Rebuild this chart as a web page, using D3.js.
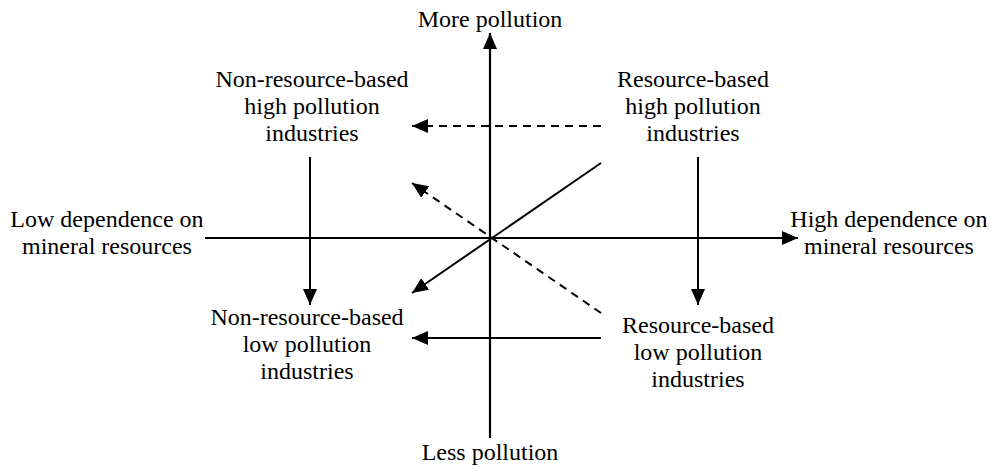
<!DOCTYPE html>
<html>
<head>
<meta charset="utf-8">
<script src="https://cdn.jsdelivr.net/npm/d3@7"></script>
<style>
  body { margin: 0; background: #fff; }
  text { font-family: "Liberation Serif", "Times New Roman", serif; font-size: 24px; fill: #000; }
</style>
</head>
<body>
<script>
// Diagram units: origin at the crossing of the two axes
const axes = [
  { from: [0, -2.0], to: [0, 2.05] },
  { from: [-2.85, 0], to: [3.08, 0] }
];

// Industry transitions
const arrows = [
  { from: [1.11, 1.12], to: [-0.78, 1.12], dashed: true },
  { from: [1.11, 0.75], to: [-0.78, -0.55], dashed: false },
  { from: [1.11, -0.75], to: [-0.78, 0.55], dashed: true },
  { from: [1.11, -1.0], to: [-0.78, -1.0], dashed: false },
  { from: [-1.8, 0.81], to: [-1.8, -0.67], dashed: false },
  { from: [2.08, 0.81], to: [2.08, -0.67], dashed: false }
];

const labels = [
  { at: [0, 2.11], lines: ['More pollution'] },
  { at: [0, -2.22], lines: ['Less pollution'] },
  { at: [-1.78, 1.51], lines: ['Non-resource-based', 'high pollution', 'industries'] },
  { at: [2.03, 1.51], lines: ['Resource-based', 'high pollution', 'industries'] },
  { at: [-3.83, 0.11], lines: ['Low dependence on', 'mineral resources'] },
  { at: [3.99, 0.11], lines: ['High dependence on', 'mineral resources'] },
  { at: [-1.83, -0.87], lines: ['Non-resource-based', 'low pollution', 'industries'] },
  { at: [2.08, -0.95], lines: ['Resource-based', 'low pollution', 'industries'] }
];

const width = 997, height = 468;

const x = d3.scaleLinear().domain([-3, 3]).range([190, 790]);
const y = d3.scaleLinear().domain([-2, 2]).range([438, 38]);

const svg = d3.select('body').append('svg')
  .attr('width', width)
  .attr('height', height);

svg.append('defs').append('marker')
  .attr('id', 'head')
  .attr('markerUnits', 'userSpaceOnUse')
  .attr('viewBox', '0 0 16 14')
  .attr('refX', 16)
  .attr('refY', 7)
  .attr('markerWidth', 16)
  .attr('markerHeight', 14)
  .attr('orient', 'auto')
  .append('path')
  .attr('d', 'M0,0 L16,7 L0,14 Z')
  .attr('fill', '#000');

// axes
svg.selectAll('line.axis')
  .data(axes)
  .join('line')
  .attr('class', 'axis')
  .attr('x1', d => x(d.from[0]))
  .attr('y1', d => y(d.from[1]))
  .attr('x2', d => x(d.to[0]))
  .attr('y2', d => y(d.to[1]))
  .attr('stroke', '#000')
  .attr('stroke-width', 2.2)
  .attr('marker-end', 'url(#head)');

// arrows between the four quadrants
svg.selectAll('line.arrow')
  .data(arrows)
  .join('line')
  .attr('class', 'arrow')
  .attr('x1', d => x(d.from[0]))
  .attr('y1', d => y(d.from[1]))
  .attr('x2', d => x(d.to[0]))
  .attr('y2', d => y(d.to[1]))
  .attr('stroke', '#000')
  .attr('stroke-width', 2)
  .attr('stroke-dasharray', d => d.dashed ? '8,6' : null)
  .attr('marker-end', 'url(#head)');

// labels
const lineHeight = 27;
svg.selectAll('text.label')
  .data(labels)
  .join('text')
  .attr('class', 'label')
  .attr('text-anchor', 'middle')
  .each(function (d) {
    const t = d3.select(this);
    d.lines.forEach((s, i) => {
      t.append('tspan')
        .attr('x', x(d.at[0]))
        .attr('y', y(d.at[1]) + i * lineHeight)
        .text(s);
    });
  });
</script>
</body>
</html>
